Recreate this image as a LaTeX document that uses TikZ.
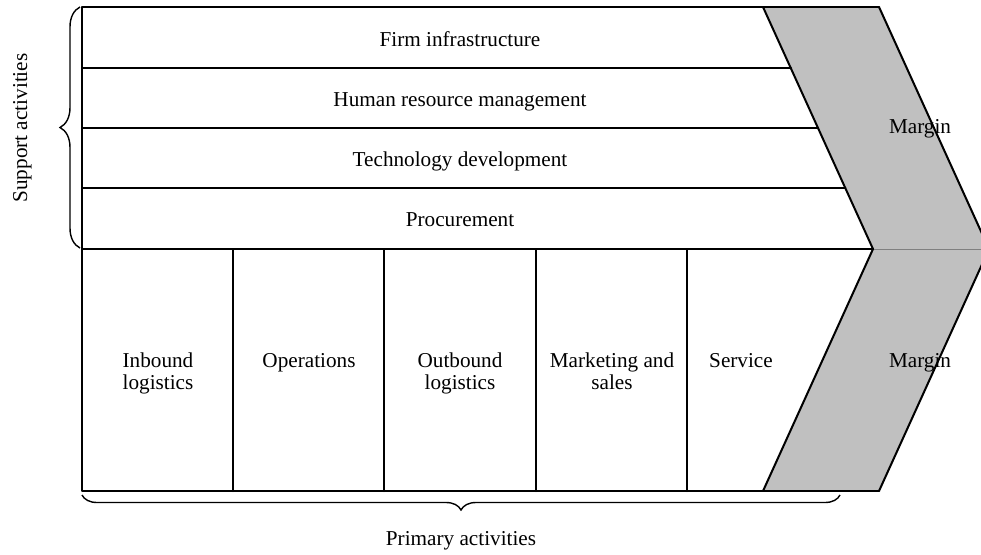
\documentclass[tikz,border=0pt]{standalone}
\usepackage{fontspec}
\setmainfont{Liberation Serif}
\usetikzlibrary{decorations.pathreplacing}
\definecolor{margingray}{HTML}{C0C0C0}
\tikzset{
  frame/.style={line width=2pt, line cap=round, line join=round},
  lbl/.style={font=\fontsize{21.2}{22}\selectfont, inner sep=0pt, anchor=base, align=center},
  bracestyle/.style={line width=1.4pt, decorate},
}
\begin{document}
\begin{tikzpicture}[x=1pt,y=-1pt]
\useasboundingbox (0,0) rectangle (981,554);
\clip (0,0) rectangle (981,554);
% corner coordinates
\coordinate (tl) at (82,7);
\coordinate (bl) at (82,491);
\coordinate (ct1) at (763,7);
\coordinate (ct2) at (879,7);
\coordinate (notch) at (873,249);
\coordinate (tip) at (989,249);
\coordinate (cb1) at (763,491);
\coordinate (cb2) at (879,491);
% gray chevron
\fill[margingray] (ct1) -- (ct2) -- (tip) -- (notch) -- cycle;
\fill[margingray] (notch) -- (tip) -- (cb2) -- (cb1) -- cycle;
\draw[gray, line width=0.8pt] (notch) -- (tip);
% outline
\draw[frame] (ct2) -- (tl) -- (bl) -- (cb2);
\draw[frame] (ct1) -- (notch) -- (cb1);
\draw[frame] (ct2) -- (tip) -- (cb2);
% strip separators
\draw[frame] (82,68) -- (791,68);
\draw[frame] (82,128) -- (818,128);
\draw[frame] (82,188) -- (845.3,188);
\draw[frame] (82,249) -- (notch);
% column separators
\foreach \x in {233,384,536,687} \draw[frame] (\x,249) -- (\x,491);
% support labels
\node[lbl] (firm) at (460,46) {Firm infrastructure};
\node[lbl] (hrm) at (460,106) {Human resource management};
\node[lbl] (tech) at (460,166) {Technology development};
\node[lbl] (proc) at (460,226) {Procurement};
\node[lbl] (m1) at (920,133) {Margin};
% primary labels
\node[lbl] (inb) at (158,389) {Inbound\\logistics};
\node[lbl] (ops) at (309,367) {Operations};
\node[lbl] (outb) at (460,389) {Outbound\\logistics};
\node[lbl] (mkt) at (612,389) {Marketing and\\sales};
\node[lbl] (serv) at (741,367) {Service};
\node[lbl] (m2) at (920,367) {Margin};
% braces
\draw[bracestyle, decoration={brace, amplitude=20pt}] (80,248) -- (80,7);
\draw[bracestyle, decoration={brace, amplitude=15pt}] (840,495) -- (82,495);
\node[lbl, rotate=90] (sup) at (27,128) {Support activities};
\node[lbl] (prim) at (461,545) {Primary activities};
\end{tikzpicture}
\end{document}
